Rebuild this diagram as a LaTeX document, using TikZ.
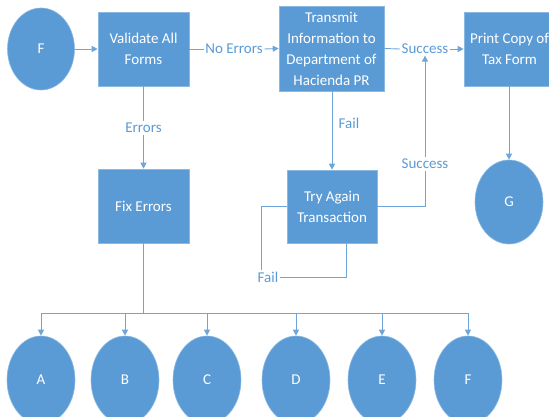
\documentclass[tikz,border=0pt]{standalone}
\usepackage{fontspec}
\setmainfont{Carlito}
\usetikzlibrary{arrows.meta,shapes.geometric}
\definecolor{ofblue}{HTML}{5B9BD5}
\definecolor{lnblue}{HTML}{6FA6DA}
\tikzset{
  box/.style={rectangle,fill=ofblue,draw=ofblue!70!white,line width=0.6pt,text=white,align=center,inner sep=2pt,font=\fontsize{15}{21}\selectfont},
  oval/.style={ellipse,fill=ofblue,draw=ofblue!70!white,line width=0.6pt,text=white,inner sep=0pt,font=\fontsize{15}{21}\selectfont},
  lbl/.style={text=ofblue,fill=white,inner sep=1.5pt,font=\fontsize{15}{18}\selectfont},
  conn/.style={draw=lnblue,line width=0.9pt},
  arr/.style={conn,-{Triangle[width=6pt,length=6pt]}}
}
\begin{document}
\begin{tikzpicture}[x=1pt,y=-1pt]
\useasboundingbox (0,0) rectangle (549,417);
\clip (0,0) rectangle (549,417);
% nodes
\node[oval,minimum width=67,minimum height=82] (F0) at (41,49) {F};
\node[box,minimum width=91,minimum height=74] (val) at (143.5,49) {Validate All\\Forms};
\node[box,minimum width=105,minimum height=85] (tra) at (331.5,48.5) {Transmit\\Information to\\Department of\\Hacienda PR};
\node[box,minimum width=91,minimum height=74] (pri) at (509.5,49) {Print Copy of\\Tax Form};
\node[box,minimum width=91,minimum height=74] (fix) at (143.5,206) {Fix Errors};
\node[box,minimum width=90,minimum height=73] (try) at (332,206.5) {Try Again\\Transaction};
\node[oval,minimum width=68,minimum height=84] (G) at (509,202) {G};
\foreach \n/\x in {A/41,B/125,C/207,D/296,E/382,F/468}{
  \node[oval,minimum width=68,minimum height=88] (c\n) at (\x,380) {\n};
}
% labels
\node[lbl] (noerr) at (234,49) {No Errors};
\node[lbl] (succ1) at (425,49) {Success};
\node[lbl] (err) at (143.5,128) {Errors};
\node[lbl,fill=none,anchor=west] (fail1) at (337,123) {Fail};
\node[lbl] (succ2) at (425,164) {Success};
\node[lbl] (fail2) at (268,277) {Fail};
\coordinate (junc) at (143.5,313);
% connectors
\draw[arr] (F0.east) -- (val.west);
\draw[conn] (val.east) -- (noerr.west);
\draw[arr] (noerr.east) -- (tra.west);
\draw[conn] (tra.east) -- (succ1.west);
\draw[arr] (succ1.east) -- (pri.west);
\draw[conn] (val.south) -- (err.north);
\draw[arr] (err.south) -- (fix.north);
\draw[arr] (tra.south -| try.north) -- (try.north);
\draw[conn] (try.east) -| (succ2.south);
\draw[arr] (succ2.north) -- (succ1.south);
\draw[conn] (try.west) -| ([xshift=-7pt]fail2.north);
\draw[conn] (fail2.east) -| ([xshift=14pt]try.south);
\draw[arr] (pri.south -| G.north) -- (G.north);
\draw[conn] (fix.south) -- (junc);
\foreach \n in {A,B,C,D,E,F}{
  \draw[arr] (junc) -| (c\n.north);
}
\end{tikzpicture}
\end{document}
